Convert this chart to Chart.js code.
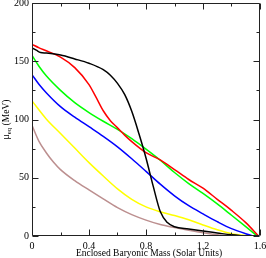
<!DOCTYPE html>
<html>
<head>
<meta charset="utf-8">
<script src="https://cdn.jsdelivr.net/npm/chart.js@4.4.0/dist/chart.umd.min.js"></script>
<style>
  html, body { margin: 0; padding: 0; background: #fff; }
</style>
</head>
<body>
<canvas id="muChart" width="266" height="258"></canvas>
<div id="err" style="font:10px monospace;color:crimson"></div>
<script>
// mu_eq versus enclosed baryonic mass, one curve per snapshot
const massBlack = [0, 0.03, 0.06, 0.1, 0.2, 0.3, 0.4, 0.5, 0.55, 0.6, 0.65, 0.7, 0.75, 0.8, 0.85, 0.9, 0.95, 1.0, 1.1, 1.2, 1.3, 1.4, 1.5];
const muBlack   = [161.5, 159.5, 157.5, 157, 155.3, 152, 148.3, 142.8, 138, 131, 121.5, 107, 88, 67, 43, 21, 11.5, 8, 6, 4.2, 2.6, 1, 0];

const massRed = [0, 0.05, 0.1, 0.2, 0.3, 0.4, 0.45, 0.5, 0.55, 0.6, 0.65, 0.7, 0.8, 0.9, 1.0, 1.1, 1.2, 1.3, 1.4, 1.5, 1.59];
const muRed   = [164.5, 161.5, 159, 153.5, 144.5, 130, 119, 107.5, 99, 92.8, 86.6, 81, 71.5, 65.3, 57, 48.5, 41, 31.5, 22, 11.5, 0];

const massGreen = [0, 0.05, 0.1, 0.2, 0.3, 0.4, 0.5, 0.6, 0.7, 0.8, 0.9, 1.0, 1.1, 1.2, 1.3, 1.4, 1.5, 1.58];
const muGreen   = [155, 145.5, 137.5, 125, 114.5, 106, 98.5, 91.5, 83.5, 74.5, 65, 54.5, 45, 36.5, 27.5, 17.8, 8, 0];

const massBlue = [0, 0.05, 0.1, 0.2, 0.3, 0.4, 0.5, 0.6, 0.7, 0.8, 0.9, 1.0, 1.1, 1.2, 1.3, 1.4, 1.55];
const muBlue   = [138.5, 130, 123, 111, 102, 93.8, 85.5, 76.5, 66.3, 55.5, 44.5, 34.5, 26, 19, 12.3, 6.3, 0];

const massYellow = [0, 0.1, 0.2, 0.3, 0.4, 0.5, 0.6, 0.7, 0.8, 0.9, 1.0, 1.1, 1.2, 1.3, 1.4, 1.53];
const muYellow   = [116, 100.5, 88, 75.5, 63, 51.5, 40.5, 31.5, 25, 20.8, 17.6, 14, 9.5, 5.3, 2, 0];

const massBrown = [0, 0.05, 0.1, 0.15, 0.2, 0.3, 0.4, 0.5, 0.6, 0.7, 0.8, 0.9, 1.0, 1.1, 1.2, 1.3, 1.36];
const muBrown   = [95, 81, 71.5, 63.5, 57, 47.5, 39.5, 31.8, 24.3, 18.3, 13.6, 9.8, 7.2, 4.9, 2.8, 1.1, 0];

const xMajorTicks = [0, 0.4, 0.8, 1.2, 1.6];
const xMinorTicks = [0.2, 0.6, 1.0, 1.4];
const yMajorTicks = [0, 50, 100, 150, 200];
const yMinorTicks = [25, 75, 125, 175];

const serif = '"Liberation Serif", "DejaVu Serif", serif';

function zip(xs, ys) {
  return xs.map((x, i) => ({ x: x, y: ys[i] }));
}

function series(xs, ys, color) {
  return {
    data: zip(xs, ys),
    borderColor: color,
    borderWidth: 1.5,
    pointRadius: 0,
    fill: false,
    cubicInterpolationMode: 'monotone'
  };
}

function resetCtx(ctx) {
  ctx.setTransform(1, 0, 0, 1, 0, 0);
  ctx.globalAlpha = 1;
  ctx.globalCompositeOperation = 'source-over';
  ctx.setLineDash([]);
}

// frame with inward ticks on all four sides
const framePlugin = {
  id: 'frame',
  afterDatasetsDraw(chart) {
    const ctx = chart.ctx;
    const a = chart.chartArea;
    const xs = chart.scales.x, ys = chart.scales.y;
    ctx.save();
    resetCtx(ctx);
    ctx.strokeStyle = '#222222';
    ctx.lineWidth = 1;
    const L = Math.round(a.left) + 0.5, R = Math.round(a.right) - 0.5;
    const T = Math.round(a.top) + 0.5, B = Math.round(a.bottom) - 0.5;
    ctx.beginPath();
    ctx.rect(L, T, R - L, B - T);
    function xt(v, len) {
      const px = Math.round(xs.getPixelForValue(v)) + 0.5;
      ctx.moveTo(px, B); ctx.lineTo(px, B - len);
      ctx.moveTo(px, T); ctx.lineTo(px, T + len);
    }
    function yt(v, len) {
      const py = Math.round(ys.getPixelForValue(v)) + 0.5;
      ctx.moveTo(L, py); ctx.lineTo(L + len, py);
      ctx.moveTo(R, py); ctx.lineTo(R - len, py);
    }
    xMajorTicks.forEach(v => xt(v, 6));
    xMinorTicks.forEach(v => xt(v, 3));
    yMajorTicks.forEach(v => yt(v, 6));
    yMinorTicks.forEach(v => yt(v, 3));
    ctx.stroke();
    ctx.restore();
  },
  afterDraw(chart) {
    const ctx = chart.ctx;
    const a = chart.chartArea;
    ctx.save();
    resetCtx(ctx);
    ctx.fillStyle = '#000';
    ctx.font = '9.5px ' + serif;
    ctx.textAlign = 'center';
    ctx.textBaseline = 'alphabetic';
    ctx.fillText('Enclosed Baryonic Mass (Solar Units)', 149, 256);

    // y title with subscript
    const main = '9.5px ' + serif, sub = '7px ' + serif;
    ctx.font = main;
    const w1 = ctx.measureText('\u03bc').width;
    const w3 = ctx.measureText(' (MeV)').width;
    ctx.font = sub;
    const w2 = ctx.measureText('eq').width;
    const total = w1 + w2 + w3;
    ctx.translate(9, (a.top + a.bottom) / 2);
    ctx.rotate(-Math.PI / 2);
    ctx.textAlign = 'left';
    const x0 = -total / 2;
    ctx.font = main;
    ctx.fillText('\u03bc', x0, 0);
    ctx.font = sub;
    ctx.fillText('eq', x0 + w1, 2);
    ctx.font = main;
    ctx.fillText(' (MeV)', x0 + w1 + w2, 0);
    ctx.restore();
  }
};

try {
  new Chart(document.getElementById('muChart').getContext('2d'), {
    type: 'line',
    data: {
      datasets: [
        series(massBlack, muBlack, '#000000'),
        series(massRed, muRed, '#ff0000'),
        series(massGreen, muGreen, '#00ff00'),
        series(massBlue, muBlue, '#0000ff'),
        series(massYellow, muYellow, '#ffff00'),
        series(massBrown, muBrown, '#bc8f8f')
      ]
    },
    options: {
      responsive: false,
      animation: false,
      layout: { padding: { left: 0, right: 6, top: 3, bottom: 0 } },
      plugins: { legend: { display: false }, tooltip: { enabled: false } },
      scales: {
        x: {
          type: 'linear',
          min: 0, max: 1.6,
          grid: { display: false, drawTicks: false, tickLength: 0 },
          border: { display: false },
          ticks: {
            stepSize: 0.4, autoSkip: false, maxRotation: 0, padding: 4,
            color: '#000', font: { family: serif, size: 10 },
            callback: v => Number(v.toFixed(1)).toString()
          },
          afterFit(s) { s.height = 22; s.paddingLeft = 0; s.paddingRight = 0; }
        },
        y: {
          min: 0, max: 200,
          grid: { display: false, drawTicks: false, tickLength: 0 },
          border: { display: false },
          ticks: {
            stepSize: 50, padding: 3,
            color: '#000', font: { family: serif, size: 10 }
          },
          afterFit(s) { s.width = 32; s.paddingTop = 0; s.paddingBottom = 0; }
        }
      }
    },
    plugins: [framePlugin]
  });
} catch (e) {
  document.getElementById('err').textContent = e.message;
}
</script>
</body>
</html>
